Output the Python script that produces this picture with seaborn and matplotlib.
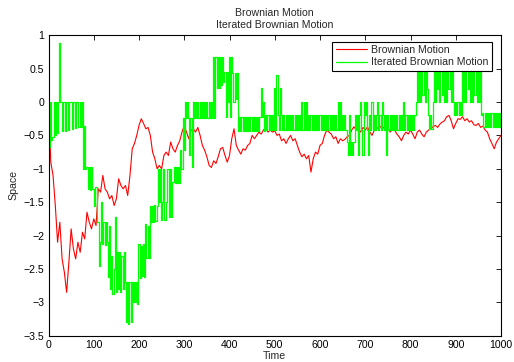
import numpy as np
import pandas as pd
import matplotlib
matplotlib.use("Agg")
import matplotlib.pyplot as plt
import seaborn as sns

# ---------------- data ----------------
title_lines = ["Brownian Motion", "Iterated Brownian Motion"]
series_names = ["Brownian Motion", "Iterated Brownian Motion"]
x_label = "Time"
y_label = "Space"
x_ticks = [0, 100, 200, 300, 400, 500, 600, 700, 800, 900, 1000]
y_ticks = [1, 0.5, 0, -0.5, -1, -1.5, -2, -2.5, -3, -3.5]
y_tick_labels = ["1", "0.5", "0", "\u22120.5", "\u22121", "\u22121.5",
                 "\u22122", "\u22122.5", "\u22123", "\u22123.5"]

# Brownian motion, one value every 5 time units (t = 0 ... 1000)
brownian = [
    0.00, -0.90, -1.10, -1.55, -2.10, -1.80, -2.35, -2.55, -2.85, -2.40,   # 0-45
    -1.90, -2.20, -2.35, -2.10, -2.25, -1.95, -2.05, -1.65, -1.80, -1.90,  # 50-95
    -1.75, -1.85, -1.30, -1.35, -1.10, -1.30, -1.35, -1.45, -1.40, -1.55,  # 100-145
    -1.45, -1.15, -1.25, -1.30, -1.25, -1.40, -1.10, -0.70, -0.62, -0.50,  # 150-195
    -0.35, -0.25, -0.32, -0.40, -0.38, -0.50, -0.75, -0.85, -1.00, -0.95,  # 200-245
    -1.00, -0.80, -0.75, -0.80, -0.60, -0.70, -0.75, -0.65, -0.58, -0.45,  # 250-295
    -0.35, -0.45, -0.55, -0.42, -0.40, -0.45, -0.38, -0.50, -0.65, -0.72,  # 300-345
    -0.82, -0.95, -0.98, -0.88, -0.92, -0.82, -0.70, -0.68, -0.80, -0.90,  # 350-395
    -0.80, -0.55, -0.40, -0.65, -0.72, -0.78, -0.70, -0.72, -0.65, -0.62,  # 400-445
    -0.50, -0.55, -0.50, -0.45, -0.48, -0.42, -0.38, -0.45, -0.42, -0.45,  # 450-495
    -0.43, -0.50, -0.48, -0.58, -0.55, -0.62, -0.55, -0.50, -0.58, -0.55,  # 500-545
    -0.65, -0.75, -0.82, -0.78, -0.85, -0.80, -1.05, -0.85, -0.75, -0.78,  # 550-595
    -0.65, -0.62, -0.50, -0.42, -0.45, -0.48, -0.55, -0.52, -0.62, -0.55,  # 600-645
    -0.58, -0.56, -0.52, -0.50, -0.42, -0.37, -0.42, -0.40, -0.45, -0.38,  # 650-695
    -0.42, -0.37, -0.45, -0.50, -0.42, -0.38, -0.40, -0.36, -0.38, -0.42,  # 700-745
    -0.38, -0.45, -0.40, -0.42, -0.48, -0.52, -0.58, -0.50, -0.45, -0.48,  # 750-795
    -0.42, -0.48, -0.55, -0.45, -0.42, -0.48, -0.52, -0.45, -0.42, -0.40,  # 800-845
    -0.37, -0.35, -0.38, -0.33, -0.30, -0.28, -0.22, -0.20, -0.28, -0.40,  # 850-895
    -0.32, -0.25, -0.26, -0.22, -0.28, -0.25, -0.30, -0.28, -0.34, -0.35,  # 900-945
    -0.32, -0.38, -0.36, -0.42, -0.45, -0.55, -0.62, -0.70, -0.60, -0.55,  # 950-995
    -0.50,                                                                   # 1000
]

# Iterated Brownian motion, one value every 2.5 time units (t = 0 ... 1000)
iterated = [
    0.00, -0.67, 0.00, -0.57,      # t 0
    -0.52, 0.00, -0.49, 0.00,      # t 10
    -0.46, 0.00, 0.88, 0.00,       # t 20
    -0.44, 0.00, 0.00, -0.43,      # t 30
    0.00, 0.00, -0.42, 0.00,       # t 40
    0.00, -0.40, 0.00, 0.00,       # t 50
    -0.39, 0.00, 0.00, -0.38,      # t 60
    0.00, -0.37, 0.00, -1.00,      # t 70
    -0.36, -1.00, -0.97, -1.30,    # t 80
    -0.97, -1.32, -0.97, -1.30,    # t 90
    -1.30, -1.55, -1.28, -1.80,    # t 100
    -1.80, -2.45, -2.10, -1.49,    # t 110
    -2.12, -1.80, -2.14, -1.80,    # t 120
    -2.10, -2.62, -1.85, -2.80,    # t 130
    -2.30, -2.87, -2.50, -1.72,    # t 140
    -2.84, -2.24, -2.80, -2.25,    # t 150
    -2.84, -2.30, -2.80, -2.24,    # t 160
    -2.70, -3.30, -2.70, -3.32,    # t 170
    -2.70, -3.30, -2.70, -3.00,    # t 180
    -2.70, -3.00, -2.69, -3.02,    # t 190
    -2.12, -2.64, -2.15, -2.60,    # t 200
    -2.12, -2.62, -1.82, -2.34,    # t 210
    -1.85, -2.34, -1.55, -1.79,    # t 220
    -1.55, -1.79, -1.54, -1.78,    # t 230
    -1.55, -1.00, -1.49, -1.00,    # t 240
    -1.77, -1.49, -1.00, -1.77,    # t 250
    -1.50, -1.00, -1.00, -1.72,    # t 260
    -1.00, -1.72, -1.20, -0.97,    # t 270
    -1.22, -0.97, -1.22, -0.97,    # t 280
    -1.22, -0.72, -1.00, -0.24,    # t 290
    -0.72, 0.00, -0.24, 0.00,      # t 300
    -0.24, -0.79, -0.24, -0.97,    # t 310
    0.00, -0.24, 0.00, -0.24,      # t 320
    0.00, -0.24, 0.00, -0.24,      # t 330
    0.00, -0.24, 0.00, -0.24,      # t 340
    0.00, -0.24, 0.00, -0.24,      # t 350
    0.00, -0.24, 0.68, -0.24,      # t 360
    0.68, 0.21, 0.68, 0.21,        # t 370
    0.68, 0.25, 0.68, 0.30,        # t 380
    0.45, -0.22, 0.45, 0.00,       # t 390
    0.68, -0.22, 0.68, 0.43,       # t 400
    0.00, 0.43, 0.05, 0.43,        # t 410
    -0.44, -0.22, -0.44, -0.22,    # t 420
    -0.44, -0.22, -0.44, -0.22,    # t 430
    -0.44, -0.22, -0.44, -0.22,    # t 440
    -0.44, -0.22, -0.44, -0.22,    # t 450
    -0.44, -0.22, -0.44, -0.22,    # t 460
    0.21, -0.22, 0.00, -0.44,      # t 470
    -0.20, -0.42, -0.20, -0.42,    # t 480
    -0.20, -0.42, -0.20, -0.42,    # t 490
    0.21, -0.42, 0.41, -0.20,      # t 500
    -0.42, 0.21, -0.20, -0.42,     # t 510
    -0.20, -0.42, -0.20, -0.42,    # t 520
    -0.20, -0.42, -0.20, -0.42,    # t 530
    -0.20, -0.42, -0.20, -0.42,    # t 540
    -0.20, -0.42, -0.20, -0.42,    # t 550
    0.00, -0.42, 0.00, -0.42,      # t 560
    0.00, -0.42, -0.20, -0.42,     # t 570
    -0.20, -0.42, -0.20, -0.42,    # t 580
    -0.20, -0.42, -0.20, -0.42,    # t 590
    -0.20, -0.42, -0.20, -0.42,    # t 600
    -0.20, -0.42, -0.20, -0.42,    # t 610
    -0.20, -0.42, -0.20, -0.42,    # t 620
    -0.20, -0.42, -0.20, -0.42,    # t 630
    0.00, -0.42, 0.00, -0.42,      # t 640
    -0.20, -0.42, -0.20, -0.42,    # t 650
    -0.60, -0.79, -0.20, -0.79,    # t 660
    -0.60, -0.79, -0.60, -0.20,    # t 670
    -0.42, -0.20, -0.79, -0.20,    # t 680
    0.00, -0.42, -0.79, 0.00,      # t 690
    -0.20, 0.00, -0.42, -0.79,     # t 700
    -0.20, -0.42, 0.00, -0.42,     # t 710
    -0.20, -0.42, -0.20, 0.00,     # t 720
    -0.42, -0.20, -0.42, 0.00,     # t 730
    -0.20, -0.42, -0.20, -0.80,    # t 740
    -0.20, -0.42, -0.20, -0.42,    # t 750
    -0.20, -0.42, -0.20, -0.42,    # t 760
    -0.20, -0.42, -0.20, -0.42,    # t 770
    -0.20, -0.42, 0.00, -0.42,     # t 780
    -0.20, -0.42, -0.20, -0.42,    # t 790
    -0.20, -0.42, -0.20, -0.42,    # t 800
    -0.20, 0.00, 0.46, 0.00,       # t 810
    0.46, 0.00, 0.46, 0.10,        # t 820
    0.46, 0.00, 0.46, 0.20,        # t 830
    -0.20, -0.40, -0.20, -0.40,    # t 840
    0.00, 0.48, 0.00, 0.48,        # t 850
    0.20, 0.48, 0.00, 0.48,        # t 860
    0.10, 0.48, 0.00, 0.48,        # t 870
    0.00, 0.48, 0.20, 0.48,        # t 880
    0.00, 0.48, 0.00, -0.20,       # t 890
    0.00, -0.20, 0.00, -0.20,      # t 900
    0.00, -0.20, 0.46, 0.00,       # t 910
    0.46, 0.00, 0.46, 0.20,        # t 920
    0.46, 0.00, 0.46, 0.00,        # t 930
    0.46, 0.10, 0.46, 0.00,        # t 940
    0.46, 0.00, 0.46, -0.20,       # t 950
    -0.17, -0.37, -0.17, -0.37,    # t 960
    -0.17, -0.37, -0.17, -0.37,    # t 970
    -0.17, -0.37, -0.17, -0.37,    # t 980
    -0.17, -0.37, -0.17, -0.37,    # t 990
    -0.17,                         # t 1000
]

t_brownian = np.linspace(0, 1000, len(brownian))
t_iterated = np.linspace(0, 1000, len(iterated))

df_b = pd.DataFrame({"Time": t_brownian, "Space": brownian})
df_i = pd.DataFrame({"Time": t_iterated, "Space": iterated})

# ---------------- style ----------------
sns.set_style("white")
plt.rcParams["font.family"] = ["Liberation Sans", "DejaVu Sans"]
plt.rcParams["font.size"] = 7.6

fig = plt.figure(figsize=(5.14, 3.62), dpi=100)
ax = fig.add_axes([0.0944, 0.0727, 0.8803, 0.8298])

sns.lineplot(data=df_b, x="Time", y="Space", color=(1, 0, 0), lw=0.8,
             estimator=None, sort=False, ax=ax, label=series_names[0])
sns.lineplot(data=df_i, x="Time", y="Space", color=(0, 1, 0), lw=0.9,
             estimator=None, sort=False, ax=ax, label=series_names[1],
             drawstyle="steps-mid")

ax.set_xlim(0, 1000)
ax.set_ylim(-3.5, 1)
ax.set_xticks(x_ticks)
ax.set_xticklabels([str(v) for v in x_ticks])
ax.set_yticks(y_ticks)
ax.set_yticklabels(y_tick_labels)
ax.tick_params(direction="in", top=True, right=True, length=3.5, width=0.6,
               labelsize=7.6, colors="black", pad=3)
for s in ax.spines.values():
    s.set_color("black")
    s.set_linewidth(0.8)

ax.set_xlabel(x_label, fontsize=7.6, labelpad=1)
ax.set_ylabel(y_label, fontsize=7.6, labelpad=4)
ax.set_title("\n".join(title_lines), fontsize=7.6, pad=5, linespacing=1.25)

leg = ax.legend(loc="upper right", bbox_to_anchor=(0.980, 0.979),
                borderaxespad=0, fancybox=False, framealpha=1,
                edgecolor="black", fontsize=7.6, handlelength=3.0,
                handletextpad=0.4, borderpad=0.3, labelspacing=0.25)
leg.get_frame().set_linewidth(0.8)

fig.savefig("out.png", dpi=100)
